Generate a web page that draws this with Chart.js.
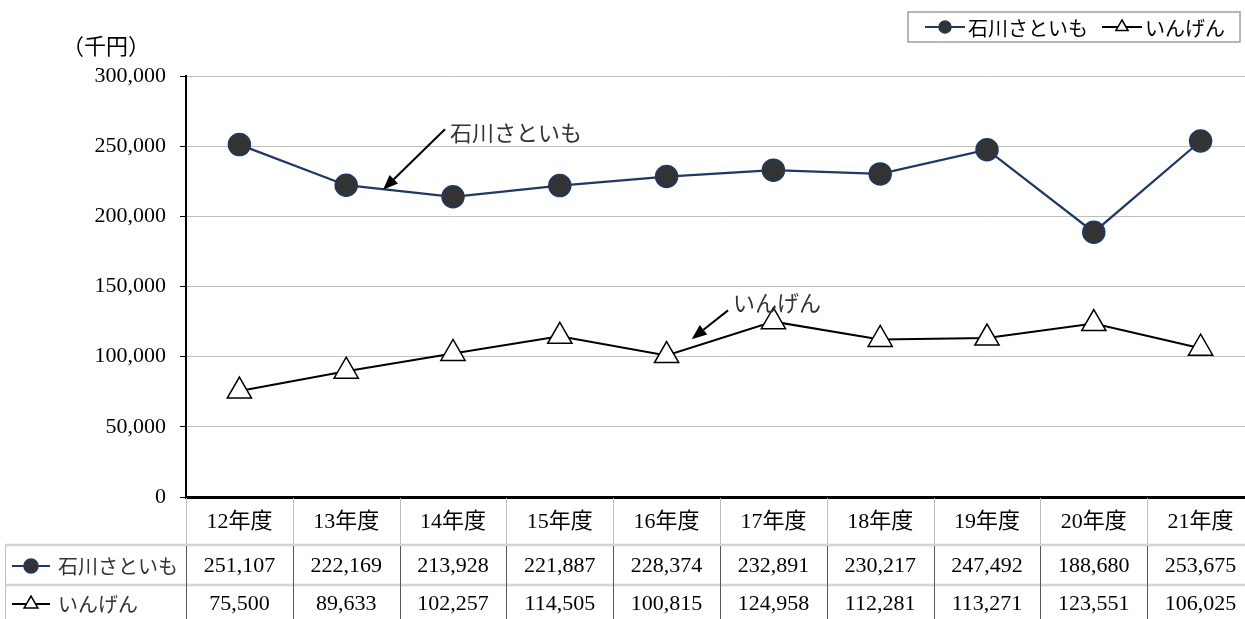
<!DOCTYPE html>
<html>
<head>
<meta charset="utf-8">
<script src="https://cdn.jsdelivr.net/npm/chart.js@4/dist/chart.umd.min.js"></script>
<style>
  html, body { margin: 0; padding: 0; background: #fff; overflow: hidden; }
  #wrap { width: 1254px; height: 619px; }
  canvas { display: block; }
</style>
</head>
<body>
<div id="wrap"><canvas id="chart" width="1254" height="619"></canvas></div>
<script>
// data
const categories = ['12年度', '13年度', '14年度', '15年度', '16年度', '17年度', '18年度', '19年度', '20年度', '21年度'];
const satoimo = [251107, 222169, 213928, 221887, 228374, 232891, 230217, 247492, 188680, 253675];
const ingen = [75500, 89633, 102257, 114505, 100815, 124958, 112281, 113271, 123551, 106025];
const seriesNames = ['石川さといも', 'いんげん'];
const yMin = 0;
const yMax = 300000;
const yStep = 50000;
const unitLabel = '（千円）';

// callouts, placed in data coordinates (category index, value)
const callouts = [
    { text: '石川さといも', tip: [1.345, 219000], tail: [1.925, 262000], dx: 5, dy: 3 },
    { text: 'いんげん', tip: [4.235, 112500], tail: [4.575, 133000], dx: 5, dy: -8 }
];

const serif = '"Liberation Serif", "Noto Sans CJK JP", serif';
const gothic = '"Noto Sans CJK JP", "Noto Sans", sans-serif';
const navy = '#1F3864';

function fmt(v) {
    return v.toLocaleString('en-US');
}

function drawMarker(ctx, ds, x, y, r) {
    ctx.save();
    ctx.fillStyle = ds.pointBackgroundColor;
    ctx.strokeStyle = ds.pointBorderColor;
    ctx.lineWidth = 1.5;
    Chart.helpers.drawPoint(ctx, { pointStyle: ds.pointStyle, radius: r, rotation: 0, borderWidth: 1.5 }, x, y);
    ctx.restore();
}

function drawSwatch(ctx, ds, x0, x1, y, r) {
    ctx.save();
    ctx.strokeStyle = ds.borderColor;
    ctx.lineWidth = 2;
    ctx.beginPath();
    ctx.moveTo(x0, y);
    ctx.lineTo(x1, y);
    ctx.stroke();
    ctx.restore();
    drawMarker(ctx, ds, (x0 + x1) / 2, y, r);
}

// data table under the plot
const tablePlugin = {
    id: 'dataTable',
    afterDraw(chart) {
        const ctx = chart.ctx;
        const xs = chart.scales.x;
        const area = chart.chartArea;
        const top = area.bottom;
        const r1 = top + 48;
        const r2 = top + 88;
        const bottom = chart.height;
        const leftEdge = 5;
        const n = categories.length;

        ctx.save();
        // header column lines
        ctx.strokeStyle = '#BFBFBF';
        ctx.lineWidth = 1;
        for (let i = 0; i <= n; i++) {
            const x = Math.round(xs.getPixelForValue(i - 0.5)) + 0.5;
            ctx.beginPath();
            ctx.moveTo(x, top + 1);
            ctx.lineTo(x, r1);
            ctx.stroke();
        }
        // row separators
        ctx.strokeStyle = '#D4D4D4';
        ctx.lineWidth = 2.5;
        [r1, r2].forEach(function (y) {
            ctx.beginPath();
            ctx.moveTo(leftEdge, y);
            ctx.lineTo(chart.width, y);
            ctx.stroke();
        });
        // left border of row label cells
        ctx.strokeStyle = '#BFBFBF';
        ctx.lineWidth = 1;
        ctx.beginPath();
        ctx.moveTo(leftEdge + 0.5, r1);
        ctx.lineTo(leftEdge + 0.5, bottom);
        ctx.stroke();
        // value column lines
        ctx.strokeStyle = '#595959';
        for (let i = 0; i <= n; i++) {
            const x = Math.round(xs.getPixelForValue(i - 0.5)) + 0.5;
            ctx.beginPath();
            ctx.moveTo(x, r1 + 1);
            ctx.lineTo(x, bottom);
            ctx.stroke();
        }

        // rows
        const rows = [
            { ds: chart.data.datasets[0], values: satoimo, y: (r1 + r2) / 2 + 1, r: 7 },
            { ds: chart.data.datasets[1], values: ingen, y: (r2 + bottom) / 2 + 2, r: 8 }
        ];
        rows.forEach(function (row) {
            drawSwatch(ctx, row.ds, 12, 50, row.y, row.r);
            ctx.fillStyle = '#333';
            ctx.font = '20px ' + gothic;
            ctx.textAlign = 'left';
            ctx.textBaseline = 'middle';
            ctx.fillText(row.ds.label, 58, row.y);
            ctx.fillStyle = '#000';
            ctx.font = '22px ' + serif;
            ctx.textAlign = 'center';
            row.values.forEach(function (v, i) {
                ctx.fillText(fmt(v), xs.getPixelForValue(i), row.y);
            });
        });

        // unit label above the y axis
        ctx.fillStyle = '#000';
        ctx.font = '22px ' + serif;
        ctx.textAlign = 'right';
        ctx.textBaseline = 'middle';
        ctx.fillText(unitLabel, area.left - 36, area.top - 28);
        ctx.restore();
    }
};

// arrows with labels
const calloutPlugin = {
    id: 'callouts',
    afterDatasetsDraw(chart) {
        const ctx = chart.ctx;
        const xs = chart.scales.x;
        const ys = chart.scales.y;
        ctx.save();
        callouts.forEach(function (c) {
            const tx = xs.getPixelForValue(c.tip[0]);
            const ty = ys.getPixelForValue(c.tip[1]);
            const sx = xs.getPixelForValue(c.tail[0]);
            const sy = ys.getPixelForValue(c.tail[1]);
            const ang = Math.atan2(ty - sy, tx - sx);
            const head = 15;
            const half = 6;
            const bx = tx - Math.cos(ang) * head;
            const by = ty - Math.sin(ang) * head;
            ctx.strokeStyle = '#000';
            ctx.fillStyle = '#000';
            ctx.lineWidth = 2;
            ctx.beginPath();
            ctx.moveTo(sx, sy);
            ctx.lineTo(bx, by);
            ctx.stroke();
            ctx.beginPath();
            ctx.moveTo(tx, ty);
            ctx.lineTo(bx + Math.sin(ang) * half, by - Math.cos(ang) * half);
            ctx.lineTo(bx - Math.sin(ang) * half, by + Math.cos(ang) * half);
            ctx.closePath();
            ctx.fill();

            ctx.fillStyle = '#333';
            ctx.font = '22px ' + gothic;
            ctx.textAlign = 'left';
            ctx.textBaseline = 'middle';
            ctx.fillText(c.text, sx + c.dx, sy + c.dy);
        });
        ctx.restore();
    }
};

// boxed legend, top right
const legendPlugin = {
    id: 'boxLegend',
    afterDraw(chart) {
        const ctx = chart.ctx;
        const dss = chart.data.datasets;
        ctx.save();
        ctx.font = '20px ' + gothic;
        const lineW = 40;
        const pad = 17;
        const gapText = 3;
        const gapItem = 14;
        let total = pad;
        dss.forEach(function (ds, i) {
            total += lineW + gapText + ctx.measureText(ds.label).width + (i < dss.length - 1 ? gapItem : 0);
        });
        total += 15;
        const right = 1240;
        const left = right - total;
        const top = 12;
        const h = 30;
        ctx.strokeStyle = '#A0A0A0';
        ctx.lineWidth = 1.5;
        ctx.strokeRect(left, top, total, h);
        let x = left + pad;
        const y = top + h / 2;
        dss.forEach(function (ds, i) {
            drawSwatch(ctx, ds, x, x + lineW, y, ds.pointStyle === 'circle' ? 6 : 7);
            x += lineW + gapText;
            ctx.fillStyle = '#000';
            ctx.font = '20px ' + gothic;
            ctx.textAlign = 'left';
            ctx.textBaseline = 'middle';
            ctx.fillText(ds.label, x, y + 1);
            x += ctx.measureText(ds.label).width + gapItem;
        });
        ctx.restore();
    }
};

const ctx = document.getElementById('chart').getContext('2d');
new Chart(ctx, {
    type: 'line',
    data: {
        labels: categories,
        datasets: [
            {
                label: seriesNames[0],
                data: satoimo,
                borderColor: navy,
                borderWidth: 2.25,
                pointStyle: 'circle',
                pointRadius: 11,
                pointBackgroundColor: '#333333',
                pointBorderColor: navy,
                pointBorderWidth: 1.5,
                tension: 0
            },
            {
                label: seriesNames[1],
                data: ingen,
                borderColor: '#000',
                borderWidth: 2,
                pointStyle: 'triangle',
                pointRadius: 14,
                pointBackgroundColor: '#fff',
                pointBorderColor: '#000',
                pointBorderWidth: 1.5,
                tension: 0
            }
        ]
    },
    options: {
        responsive: false,
        animation: false,
        devicePixelRatio: 1,
        layout: { autoPadding: false, padding: { top: 76, left: 0, right: 0, bottom: 0 } },
        plugins: {
            legend: { display: false },
            tooltip: { enabled: false }
        },
        scales: {
            x: {
                offset: true,
                grid: { display: false, drawTicks: false },
                border: { color: '#000', width: 3 },
                ticks: {
                    font: { family: serif, size: 22 },
                    color: '#000',
                    padding: 12,
                    maxRotation: 0,
                    autoSkip: false
                },
                afterFit: function (s) { s.height = 122; }
            },
            y: {
                min: yMin,
                max: yMax,
                ticks: {
                    stepSize: yStep,
                    font: { family: serif, size: 22 },
                    color: '#000',
                    padding: 14,
                    callback: function (v) { return fmt(v); }
                },
                grid: { color: '#BFBFBF', lineWidth: 1, tickLength: 6, tickColor: '#000' },
                border: { color: '#000', width: 2 },
                afterFit: function (s) { s.width = 186; }
            }
        }
    },
    plugins: [tablePlugin, calloutPlugin, legendPlugin]
});
</script>
</body>
</html>
